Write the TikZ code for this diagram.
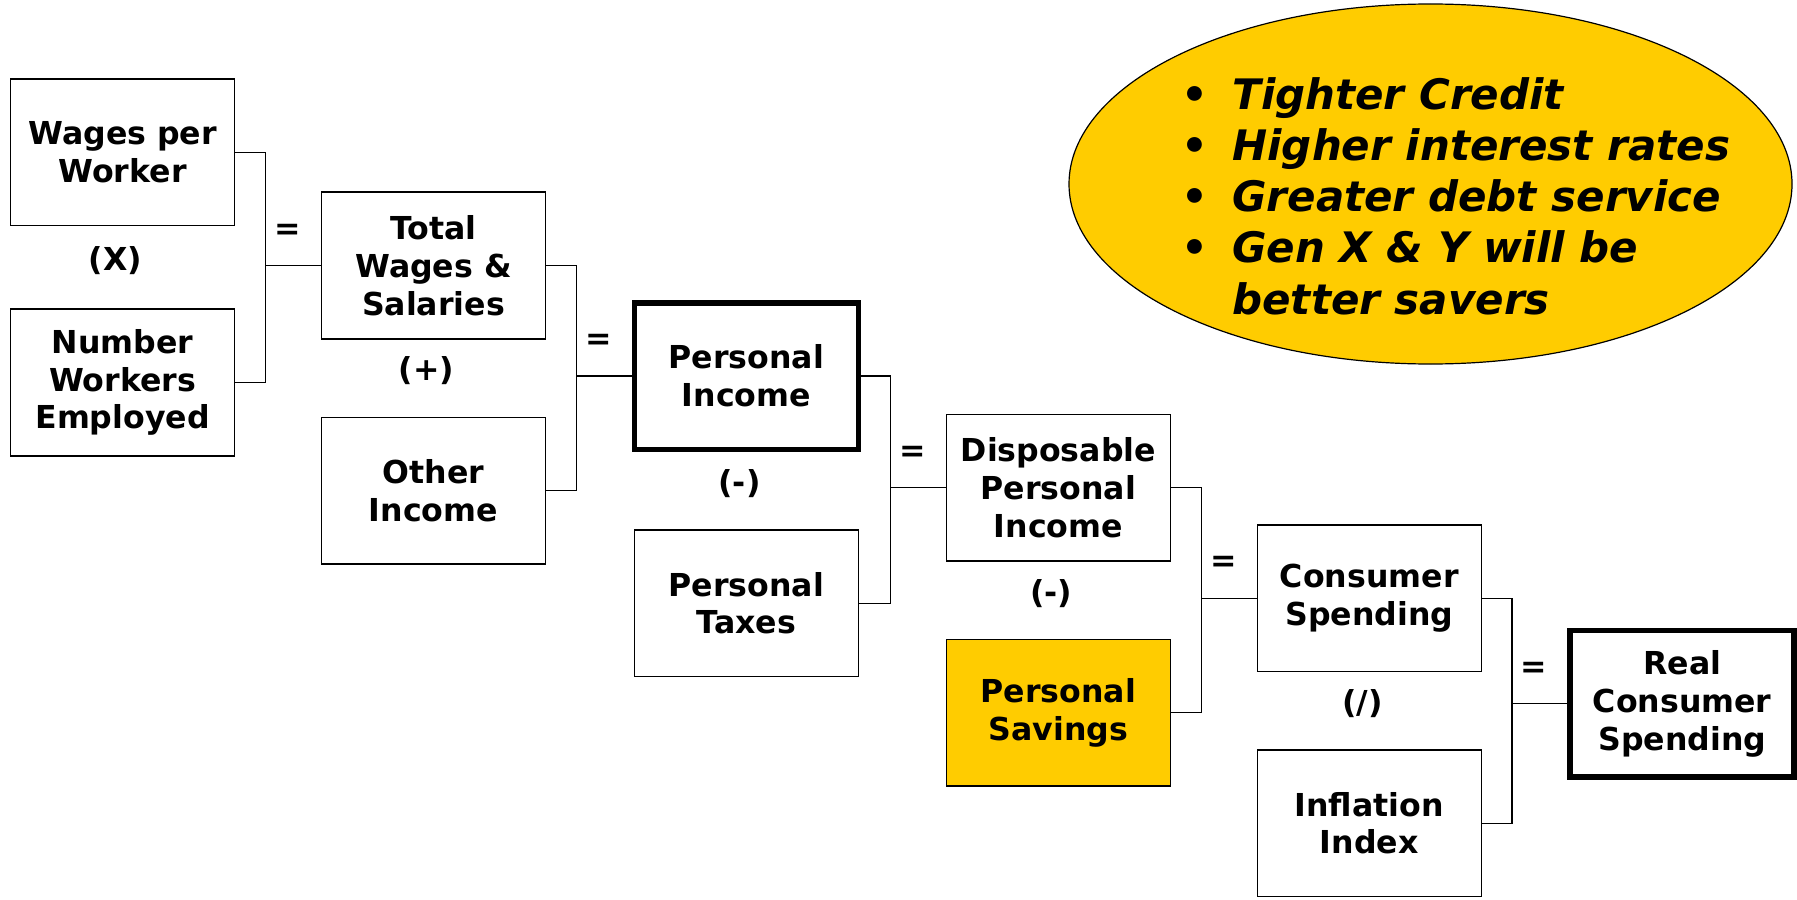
\documentclass[tikz,border=0pt]{standalone}
\usepackage{fontspec}
\setmainfont{DejaVu Sans}
\usepackage{xcolor}
\usetikzlibrary{positioning,calc,shapes.geometric}

\definecolor{gold}{RGB}{255,204,0}
\newcommand{\boxfont}{\fontsize{15.8}{18.9}\selectfont\bfseries}
\newcommand{\notefont}{\fontsize{21}{25.65}\selectfont\bfseries\itshape}
\newcommand{\bul}{\makebox[25.7pt][l]{\upshape\textbullet}}

\begin{document}
\begin{tikzpicture}[x=0.5pt, y=-0.5pt, node distance=38.5pt,
		box/.style={draw, line width=0.75pt, minimum width=112pt, minimum height=73.3pt, inner sep=0pt, align=center, font=\boxfont},
		result/.style={box, line width=2.8pt},
		saving/.style={box, fill=gold},
		op/.style={font=\boxfont},
		wire/.style={line width=0.6pt},
		eq/.style={op, pos=0.4, yshift=17pt}]
		\useasboundingbox (0,0) rectangle (1797,899);

		% the bubble
		\node[draw, ellipse, fill=gold, line width=0.6pt, minimum width=361.5pt, minimum height=180pt, inner sep=0pt] (note) at (1430.5,184) {};
		\node[anchor=west, align=left, inner sep=0pt, font=\notefont] (notes) at (1180.6,196) {\bul Tighter Credit\\ \bul Higher interest rates\\ \bul Greater debt service\\ \bul Gen X \& Y will be\\ \hspace*{25.7pt}better savers};

		\node[box] (wages) at (122.6,152.4) {Wages per\\Worker};
		\node[box] (workers) [below=41pt of wages] {Number\\Workers\\Employed};
		\coordinate (j1) at ($(wages.east)!.5!(workers.east)+(15pt,1pt)$);

		\node[box] (salaries) [right=27.7pt of j1] {Total\\Wages \&\\Salaries};
		\node[box] (other) [below=of salaries] {Other\\Income};
		\coordinate (j2) at ($(salaries.east)!.5!(other.east)+(15pt,1pt)$);

		\node[result] (income) [right=27.7pt of j2] {Personal\\Income};
		\node[box] (taxes) [below=of income] {Personal\\Taxes};
		\coordinate (j3) at ($(income.east)!.5!(taxes.east)+(15pt,1pt)$);

		\node[box] (disposable) [right=27.7pt of j3] {Disposable\\Personal\\Income};
		\node[saving] (savings) [below=of disposable] {Personal\\Savings};
		\coordinate (j4) at ($(disposable.east)!.5!(savings.east)+(15pt,1pt)$);

		\node[box] (spending) [right=27.7pt of j4] {Consumer\\Spending};
		\node[box] (inflation) [below=of spending] {Inflation\\Index};
		\coordinate (j5) at ($(spending.east)!.5!(inflation.east)+(15pt,3.5pt)$);

		\node[result] (real) [right=27.7pt of j5] {Real\\Consumer\\Spending};

		% operators between the pairs
		\foreach \a/\b/\s [count=\i] in {wages/workers/{(X)}, salaries/other/{(+)}, income/taxes/{(-)}, disposable/savings/{(-)}, spending/inflation/{(/)}}
			\node[op, xshift=-3.5pt, yshift=3.5pt] (op\i) at ($(\a.south)!.5!(\b.north)$) {\s};

		\foreach \a/\b/\j/\c in {wages/workers/j1/salaries, salaries/other/j2/income, income/taxes/j3/disposable, disposable/savings/j4/spending, spending/inflation/j5/real}{
			\draw[wire] (\a) -| (\j) |- (\b);
			\draw[wire] (\j) -- node[eq] {=} (\c);
		}
	\end{tikzpicture}
\end{document}
